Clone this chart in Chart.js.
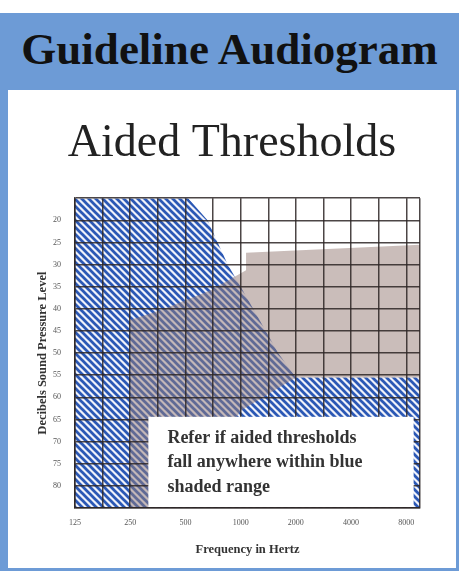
<!DOCTYPE html>
<html>
<head>
<meta charset="utf-8">
<script src="https://cdn.jsdelivr.net/npm/chart.js@4.4.1/dist/chart.umd.min.js"></script>
<style>
    body { margin: 0; width: 459px; height: 571px; position: relative; background: #fff; overflow: hidden; }
    #band { position: absolute; left: 0; top: 13px; width: 459px; height: 558px; background: #6d9bd6; }
    #head { position: absolute; left: 0; top: 13px; width: 459px; height: 67px; padding-top: 10px;
            text-align: center; font: bold 45px 'Liberation Serif', serif; line-height: normal; color: #111; }
    #panel { position: absolute; left: 8px; top: 90px; width: 448px; height: 478px; background: #fff; }
</style>
</head>
<body>
<div id="band"></div>
<div id="head">Guideline Audiogram</div>
<div id="panel"><canvas id="audiogram"></canvas></div>

<script>
const freqTicks = [125, 250, 500, 1000, 2000, 4000, 8000];
const gridFreqs = [125, 177, 250, 354, 500, 707, 1000, 1414, 2000, 2828, 4000, 5657, 8000, 9500];
const dbTicks = [20, 25, 30, 35, 40, 45, 50, 55, 60, 65, 70, 75, 80];

// upper edge of the blue "refer" range (filled down to 85 dB)
const referFreq = [125, 517, 660, 850, 1000, 1370, 1600, 2000, 9500];
const referDb   = [15, 15, 20, 30, 35, 45, 50, 55.5, 55.5];

// tan aided range: top edge and bottom edge
const aidedTopFreq = [250, 365, 687, 1070, 1070, 9500];
const aidedTopDb   = [42.5, 40.3, 35.8, 31.3, 27.3, 25.5];
const aidedLowFreq = [250, 330, 900, 1000, 2000, 9500];
const aidedLowDb   = [85, 85, 66, 63, 55.5, 55.5];

// note box corners (freq, dB)
const boxFreq = [314, 8770];
const boxDb = [64.4, 85];
const boxLines = ['Refer if aided thresholds', 'fall anywhere within blue', 'shaded range'];

function pts(xs, ys) {
    return xs.map((x, i) => ({ x: x, y: ys[i] }));
}

function hatch() {
    const s = 7;
    const c = document.createElement('canvas');
    c.width = s; c.height = s;
    const g = c.getContext('2d');
    g.fillStyle = '#f0f2fa';
    g.fillRect(0, 0, s, s);
    g.strokeStyle = '#2b58b5';
    g.lineWidth = 2.7;
    for (let k = -1; k <= 1; k++) {
        g.beginPath();
        g.moveTo(k * s - 1, -1);
        g.lineTo(k * s + s + 1, s + 1);
        g.stroke();
    }
    return g.createPattern(c, 'repeat');
}

const gridColor = 'rgba(45, 38, 38, 0.85)';

const noteBox = {
    id: 'noteBox',
    afterDraw(chart) {
        const x = chart.scales.x, y = chart.scales.y, ctx = chart.ctx;
        const l = x.getPixelForValue(boxFreq[0]), r = x.getPixelForValue(boxFreq[1]);
        const t = y.getPixelForValue(boxDb[0]), b = y.getPixelForValue(boxDb[1]) - 1;
        ctx.save();
        ctx.fillStyle = '#fff';
        ctx.fillRect(l, t, r - l, b - t);
        ctx.fillStyle = '#333';
        ctx.font = "bold 18px 'Liberation Serif'";
        ctx.textBaseline = 'alphabetic';
        boxLines.forEach((s, i) => ctx.fillText(s, l + 19, t + 26 + i * 24.5));
        ctx.restore();
    }
};

new Chart(document.getElementById('audiogram'), {
    type: 'line',
    data: {
        datasets: [
            {
                label: 'aided',
                data: pts(aidedTopFreq, aidedTopDb),
                fill: 2,
                backgroundColor: 'rgba(150, 124, 118, 0.5)',
                borderWidth: 0,
                pointRadius: 0,
                order: 0
            },
            {
                label: 'refer',
                data: pts(referFreq, referDb),
                fill: { value: 85 },
                backgroundColor: hatch(),
                borderWidth: 0,
                pointRadius: 0,
                order: 1
            },
            {
                label: 'aidedLow',
                data: pts(aidedLowFreq, aidedLowDb),
                fill: false,
                borderWidth: 0,
                pointRadius: 0,
                order: 2
            }
        ]
    },
    options: {
        responsive: true,
        maintainAspectRatio: false,
        animation: false,
        layout: { padding: 0 },
        plugins: {
            legend: { display: false },
            tooltip: { enabled: false },
            title: {
                display: true,
                text: 'Aided Thresholds',
                color: '#222',
                font: { family: 'Liberation Serif', size: 46, weight: 'normal' },
                padding: { top: 26, bottom: 27 }
            }
        },
        scales: {
            x: {
                type: 'logarithmic',
                min: 125,
                max: 9500,
                afterBuildTicks: s => { s.ticks = gridFreqs.map(v => ({ value: v })); },
                afterFit: s => { s.height = 60; },
                grid: { color: gridColor, lineWidth: 1.5, drawTicks: false, z: 1 },
                border: { color: gridColor, width: 1.5, z: 1 },
                ticks: {
                    autoSkip: false,
                    maxRotation: 0,
                    padding: 10,
                    color: '#555',
                    font: { family: 'Liberation Serif', size: 8 },
                    callback: v => freqTicks.includes(v) ? String(v) : ''
                },
                title: {
                    display: true,
                    text: 'Frequency in Hertz',
                    color: '#333',
                    font: { family: 'Liberation Serif', size: 12.5, weight: 'bold' },
                    padding: { top: 0, bottom: 10.5 }
                }
            },
            y: {
                type: 'linear',
                min: 15,
                max: 85,
                reverse: true,
                afterBuildTicks: s => { s.ticks = [15, ...dbTicks, 85].map(v => ({ value: v })); },
                afterFit: s => { s.width = 67; },
                grid: { color: gridColor, lineWidth: 1.5, drawTicks: false, z: 1 },
                border: { color: gridColor, width: 1.5, z: 1 },
                ticks: {
                    padding: 14,
                    color: '#555',
                    font: { family: 'Liberation Serif', size: 8 },
                    callback: v => dbTicks.includes(v) ? String(v) : ''
                },
                title: {
                    display: true,
                    text: 'Decibels Sound Pressure Level',
                    color: '#333',
                    font: { family: 'Liberation Serif', size: 12.5, weight: 'bold' },
                    padding: { top: 27.5, bottom: 0 }
                }
            },
            // empty right-hand axis only to reserve the margin right of the grid
            yRight: {
                type: 'linear',
                position: 'right',
                afterFit: s => { s.width = 36; },
                grid: { display: false },
                border: { display: false },
                ticks: { display: false }
            }
        }
    },
    plugins: [noteBox]
});
</script>
</body>
</html>
